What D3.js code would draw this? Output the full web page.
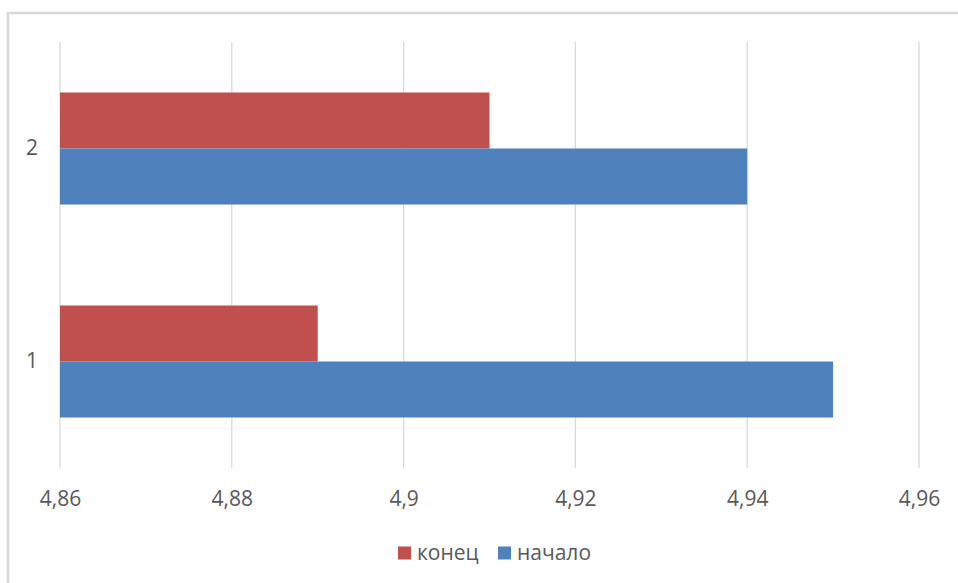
<!DOCTYPE html>
<html>
<head>
<meta charset="utf-8">
<script src="https://cdn.jsdelivr.net/npm/d3@7"></script>
<style>
  html, body { margin: 0; padding: 0; background: #fff; }
  svg { display: block; font-family: "Open Sans", sans-serif; }
</style>
</head>
<body>
<svg id="chart"></svg>
<script>
const WIDTH = 958;
const HEIGHT = 583;

// data
const categories = ["1", "2"];
const seriesNames = ["конец", "начало"];
const konets = [4.89, 4.91];
const nachalo = [4.95, 4.94];
const xTicks = [4.86, 4.88, 4.9, 4.92, 4.94, 4.96];
const colors = ["#C0504D", "#4F81BD"];

const plot = { left: 60, right: 919, top: 42, bottom: 468 };

const svg = d3.select("#chart")
  .attr("width", WIDTH)
  .attr("height", HEIGHT);

// outer chart frame (runs off the right and bottom of the window)
svg.append("rect")
  .attr("x", 8).attr("y", 13)
  .attr("width", WIDTH + 20).attr("height", HEIGHT + 20)
  .attr("fill", "none")
  .attr("stroke", "#d9d9d9")
  .attr("stroke-width", 2.5);

const x = d3.scaleLinear().domain([4.86, 4.96]).range([plot.left, plot.right]);

// category 1 at bottom, 2 at top
const y = d3.scaleBand()
  .domain(categories.slice().reverse())
  .range([plot.top, plot.bottom])
  .paddingInner(0.474)
  .paddingOuter(0.237);

const ySub = d3.scaleBand()
  .domain(seriesNames)
  .range([0, y.bandwidth()]);

// gridlines
svg.append("g")
  .selectAll("line")
  .data(xTicks)
  .join("line")
  .attr("x1", d => x(d)).attr("x2", d => x(d))
  .attr("y1", plot.top).attr("y2", plot.bottom)
  .attr("stroke", "#d9d9d9")
  .attr("stroke-width", 1.3);

const rows = categories.map((c, i) => ({ cat: c, values: [konets[i], nachalo[i]] }));

svg.append("g")
  .selectAll("g")
  .data(rows)
  .join("g")
  .attr("transform", d => `translate(0,${y(d.cat)})`)
  .selectAll("rect")
  .data(d => d.values.map((v, j) => ({ name: seriesNames[j], value: v, color: colors[j] })))
  .join("rect")
  .attr("x", x(4.86))
  .attr("y", d => ySub(d.name))
  .attr("width", d => x(d.value) - x(4.86))
  .attr("height", ySub.bandwidth())
  .attr("fill", d => d.color);

// x axis labels
const xAxis = svg.append("g")
  .attr("transform", `translate(0,${plot.bottom})`)
  .call(d3.axisBottom(x).tickValues(xTicks).tickSize(0).tickPadding(0)
    .tickFormat(d => d3.format("")(+d.toFixed(2)).replace(".", ",")));
xAxis.select(".domain").remove();
xAxis.selectAll("text")
  .attr("y", 31)
  .attr("dy", "0.35em")
  .attr("fill", "#595959")
  .style("font-size", "21px")
  .style("font-family", "Open Sans, sans-serif");

// y axis labels
const yAxis = svg.append("g")
  .attr("transform", `translate(${plot.left},0)`)
  .call(d3.axisLeft(y).tickSize(0).tickPadding(22));
yAxis.select(".domain").remove();
yAxis.selectAll("text")
  .attr("fill", "#595959")
  .style("font-size", "21px")
  .style("font-family", "Open Sans, sans-serif");

// legend
const legend = svg.append("g").attr("transform", "translate(398,553)");
const legendX = [0, 100];
seriesNames.forEach((name, i) => {
  const g = legend.append("g").attr("transform", `translate(${legendX[i]},0)`);
  g.append("rect")
    .attr("x", 0).attr("y", -6.5)
    .attr("width", 13).attr("height", 13)
    .attr("fill", colors[i]);
  g.append("text")
    .attr("x", 19)
    .attr("dy", "0.35em")
    .attr("fill", "#595959")
    .style("font-size", "21px")
    .text(name);
});
</script>
</body>
</html>
